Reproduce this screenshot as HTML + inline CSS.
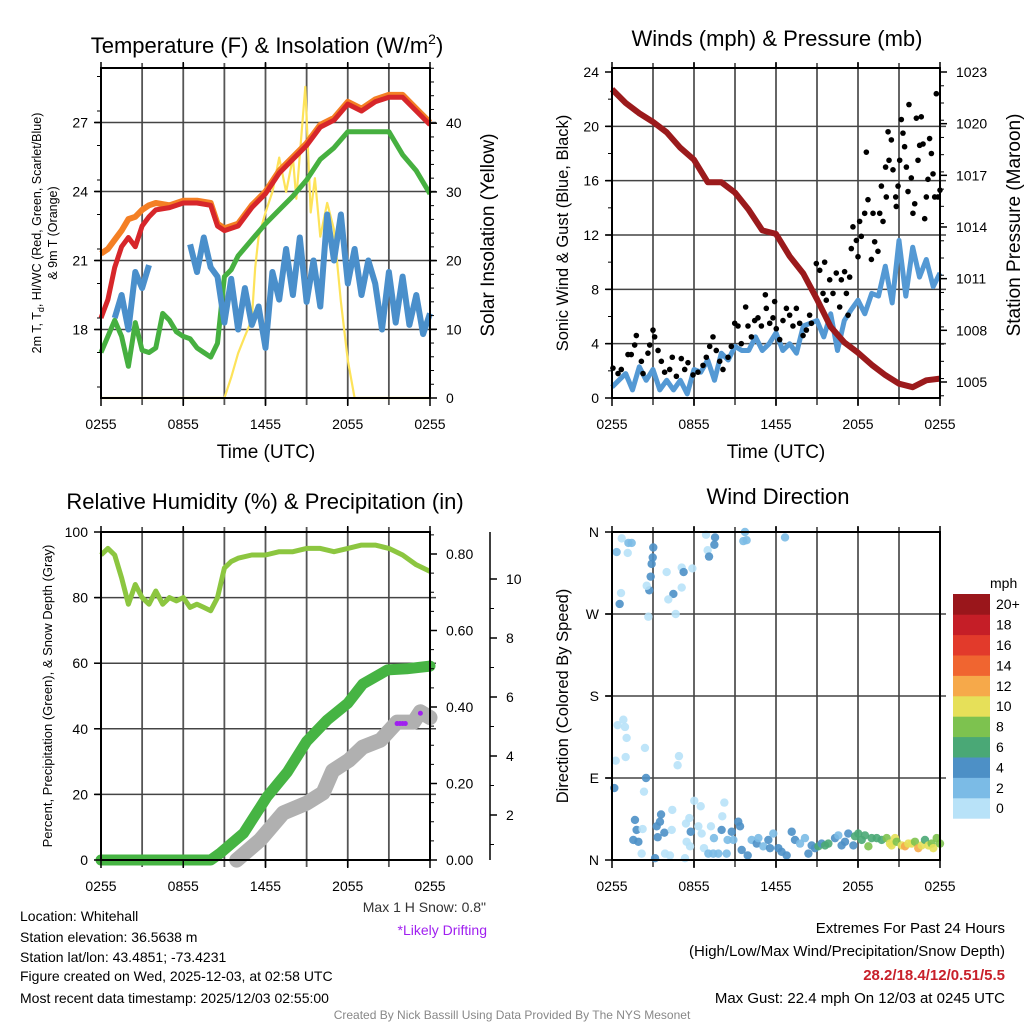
<!DOCTYPE html>
<html><head><meta charset="utf-8"><style>
html,body{margin:0;padding:0;background:#fff;}
svg{display:block;font-family:"Liberation Sans",Arial,sans-serif;}
</style></head><body>
<svg id="chart" width="1024" height="1024" viewBox="0 0 1024 1024" xmlns="http://www.w3.org/2000/svg">
<rect width="1024" height="1024" fill="#fff"/>
<g id="grid"></g>
<g id="marks"></g>
<g id="axes"></g>
<text x="267" y="53" font-size="22" text-anchor="middle">Temperature (F) &amp; Insolation (W/m<tspan font-size="14" dy="-9">2</tspan><tspan dy="9">)</tspan></text>
<text x="777" y="46" font-size="22" text-anchor="middle">Winds (mph) &amp; Pressure (mb)</text>
<text x="265" y="509" font-size="22" text-anchor="middle">Relative Humidity (%) &amp; Precipitation (in)</text>
<text x="778" y="504" font-size="22" text-anchor="middle">Wind Direction</text>
<text transform="translate(41,233) rotate(-90)" font-size="12.5" text-anchor="middle">2m T, T<tspan font-size="9" dy="3">d</tspan><tspan dy="-3">, HI/WC (Red, Green, Scarlet/Blue)</tspan></text>
<text transform="translate(57,233) rotate(-90)" font-size="12.5" text-anchor="middle">&amp; 9m T (Orange)</text>
<text transform="translate(494,235) rotate(-90)" font-size="19" text-anchor="middle">Solar Insolation (Yellow)</text>
<text transform="translate(568,233) rotate(-90)" font-size="16.5" text-anchor="middle">Sonic Wind &amp; Gust (Blue, Black)</text>
<text transform="translate(1020,225) rotate(-90)" font-size="19" text-anchor="middle">Station Pressure (Maroon)</text>
<text transform="translate(52,696) rotate(-90)" font-size="13" text-anchor="middle">Percent, Precipitation (Green), &amp; Snow Depth (Gray)</text>
<text transform="translate(568,696) rotate(-90)" font-size="16.5" text-anchor="middle">Direction (Colored By Speed)</text>
<text x="266" y="458" font-size="19" text-anchor="middle">Time (UTC)</text>
<text x="776" y="458" font-size="19" text-anchor="middle">Time (UTC)</text>
<text x="486" y="912" font-size="14" text-anchor="end" fill="#333">Max 1 H Snow: 0.8"</text>
<text x="487" y="935" font-size="14" text-anchor="end" fill="#a020f0">*Likely Drifting</text>
<g font-size="14" fill="#000">
<text x="20" y="921">Location: Whitehall</text>
<text x="20" y="942">Station elevation: 36.5638 m</text>
<text x="20" y="962">Station lat/lon: 43.4851; -73.4231</text>
<text x="20" y="981">Figure created on Wed, 2025-12-03, at 02:58 UTC</text>
<text x="20" y="1003">Most recent data timestamp: 2025/12/03 02:55:00</text>
</g>
<g font-size="15" text-anchor="end">
<text x="1005" y="933">Extremes For Past 24 Hours</text>
<text x="1005" y="956">(High/Low/Max Wind/Precipitation/Snow Depth)</text>
<text x="1005" y="980" font-weight="bold" fill="#c8202a">28.2/18.4/12/0.51/5.5</text>
<text x="1005" y="1003">Max Gust: 22.4 mph On 12/03 at 0245 UTC</text>
</g>
<text x="512" y="1019" font-size="12" text-anchor="middle" fill="#888">Created By Nick Bassill Using Data Provided By The NYS Mesonet</text>
<text x="990" y="588" font-size="14">mph</text>
</svg>
<script>
// ---------- DATA ----------
const xTickLabels = ["0255","0855","1455","2055","0255"];
const tempTicks = [18,21,24,27];
const insTicks = [0,10,20,30,40];
const windTicks = [0,4,8,12,16,20,24];
const presTicks = [1005,1008,1011,1014,1017,1020,1023];
const rhTicks = [0,20,40,60,80,100];
const prTicks = [0,0.2,0.4,0.6,0.8];
const prTickLabels = ["0.00","0.20","0.40","0.60","0.80"];
const snowTicks = [2,4,6,8,10];
const dirTicks = [0,90,180,270,360];
const dirTickLabels = ["N","E","S","W","N"];
const speedBins = ["0","2","4","6","8","10","12","14","16","18","20+"];
const speedColors = ["#b8e2f8","#7bbbe6","#4d90c6","#4aa876","#7dc24f","#e6e059","#f6a94a","#f06530","#e23a2b","#c51e27","#9a161b"];

const tempT = [0,0.5,1,1.5,2,2.5,3,3.5,4,5,6,7,8,8.5,9,10,11,12,13,14,15,16,17,18,19,20,21,22,23,24];
const redTemp = [18.5,19.3,20.7,21.6,22.0,21.6,22.5,22.9,23.2,23.3,23.5,23.5,23.4,22.5,22.3,22.5,23.3,23.9,24.8,25.4,26.0,26.8,27.1,27.8,27.5,27.9,28.1,28.1,27.5,26.9];
const orangeTemp = [21.3,21.5,21.9,22.3,22.8,22.9,23.2,23.4,23.5,23.4,23.6,23.6,23.5,22.6,22.4,22.6,23.4,24.0,24.9,25.5,26.1,26.9,27.2,27.9,27.6,28.0,28.2,28.2,27.6,27.0];
const greenT = [0,0.5,1,1.5,2,2.5,3,3.5,4,4.5,5,5.5,6,6.5,7,7.5,8,8.5,9,9.5,10,11,12,13,14,15,16,17,18,19,20,21,22,23,24];
const greenTemp = [17.0,17.7,18.4,17.7,16.4,18.3,17.1,17.0,17.2,18.7,18.4,17.9,17.7,17.6,17.2,17.0,16.8,17.4,20.3,20.6,21.2,21.9,22.6,23.2,23.8,24.5,25.4,25.9,26.6,26.6,26.6,26.6,25.6,24.9,23.9];
const windChill = [null,null,18.5,19.5,18.0,20.5,19.8,20.8,null,null,null,null,null,21.7,20.5,22.0,20.7,20.3,18.3,20.2,18.0,19.8,18.2,19.0,17.2,20.5,19.3,21.5,19.5,22.0,19.2,21.0,19.0,23.0,21.0,23.0,20.0,21.5,19.5,21.0,20.0,18.0,20.5,18.3,20.3,18.2,19.5,17.8,18.7];
const insT = [0,9,9.5,10,10.5,11,11.25,11.5,12,12.5,13,13.5,14,14.25,14.9,15.3,15.6,16,16.5,17,17.5,18,18.5,24];
const insolation = [0,0,3,6.5,9,11.4,19,23.5,27,30,35,30,35,29,45.3,27,32,23.5,28.4,24.5,14,5.5,0,0];

const sonicWind = [0.8,1.3,1.8,0.6,2.3,1.3,2.1,0.6,1.3,0.6,1.3,0.3,2.1,1.9,2.8,1.3,3.3,2.8,3.8,3.5,3.5,4.5,3.5,4.0,4.8,3.5,4.0,3.3,5.3,5.5,5.7,4.5,6.2,3.5,5.7,6.5,7.2,6.2,7.7,7.5,9.7,7.0,11.6,7.5,11.1,8.9,10.2,8.2,9.2];
const pressure = [1022.0,1021.2,1020.6,1020.1,1019.5,1018.6,1017.9,1016.6,1016.6,1016.0,1015.0,1013.8,1013.6,1012.3,1011.3,1009.8,1008.2,1007.3,1006.7,1006.0,1005.4,1004.9,1004.7,1005.1,1005.2];
const gustT = [0.07,0.44,0.68,1.17,1.41,1.66,1.78,2.15,2.27,2.63,2.76,3.0,3.12,3.37,3.61,3.85,4.22,4.41,4.71,5.07,5.32,5.56,5.93,6.29,6.66,6.9,7.15,7.39,7.63,7.88,8.12,8.49,8.73,8.98,9.22,9.46,9.78,9.95,10.2,10.44,10.68,10.93,11.22,11.29,11.54,11.78,11.9,12.02,12.27,12.51,12.76,13.0,13.24,13.49,13.73,13.98,14.22,14.46,14.59,14.95,15.2,15.44,15.56,15.68,15.93,16.17,16.41,16.66,16.78,17.02,17.15,17.39,17.27,17.51,17.63,17.88,18.0,18.12,18.24,18.49,18.61,18.73,18.98,19.1,19.22,19.46,19.59,19.71,19.83,20.02,20.07,20.2,20.27,20.44,20.56,20.76,20.8,20.93,21.05,21.17,21.29,21.41,21.54,21.66,21.73,21.9,22.02,22.15,22.27,22.39,22.51,22.63,22.76,22.88,23.0,23.12,23.24,23.37,23.49,23.61,23.73,23.85,24.0];
const gustV = [2.2,1.8,2.1,3.2,3.2,3.9,4.6,2.7,1.8,3.3,3.9,5.0,4.5,3.5,2.7,1.9,2.1,3.0,1.6,2.9,2.1,2.6,1.7,1.9,2.4,3.0,3.8,4.5,3.5,2.7,2.1,3.0,3.8,5.5,5.3,4.0,6.7,5.3,4.5,5.7,5.9,5.3,7.6,6.6,5.5,5.9,7.1,5.1,4.3,5.7,6.6,6.1,5.3,6.6,5.5,4.6,5.0,6.1,5.5,9.9,9.4,7.7,10.0,7.2,8.7,7.7,9.2,6.7,8.7,9.3,7.7,8.9,6.1,11.0,12.6,11.6,10.4,13.0,11.9,13.6,18.1,14.6,10.2,13.6,11.5,10.8,13.6,15.6,13.0,17.0,14.8,19.6,17.5,19.0,16.8,14.8,14.1,15.6,17.5,20.5,19.5,18.5,17.0,15.2,21.6,16.2,13.6,14.3,20.6,17.5,18.6,20.7,18.7,13.2,14.8,16.1,19.1,18.0,16.5,14.8,22.4,14.8,15.3];

const rhT = [0,0.5,1,1.5,2,2.5,3,3.5,4,4.5,5,5.5,6,6.5,7,7.5,8,8.5,9,9.5,10,11,12,13,14,15,16,17,18,19,20,21,22,23,24];
const rh = [93,95,93,86,78,84,80,78,82,78,80,79,80,77,78,77,76,80,89,91,92,93,93,94,94,95,95,94,95,96,96,95,93,90,88];
const precipT = [0,8,8.7,10.4,12.1,13.6,15,16.5,18,19.1,20.9,22.3,24];
const precip = [0,0,0.018,0.07,0.165,0.23,0.31,0.366,0.41,0.46,0.497,0.50,0.507];
const snowT = [9.9,11.6,13.3,15,16.2,16.9,18.1,19.1,20.4,21.6,22.8,23.3,24];
const snowDepth = [0.47,1.15,2.07,2.4,2.75,3.5,3.86,4.3,4.54,5.15,5.15,5.5,5.3];
const driftT = [21.6,21.8,22.0,22.2,23.3];
const driftV = [5.1,5.1,5.1,5.1,5.45];

const dirT = [0.71,1.2,1.44,0.34,1.15,3.02,2.98,2.9,2.83,2.73,2.54,0.66,0.56,2.66,4.0,5.1,5.24,5.88,5.1,4.49,4.12,4.66,6.88,7.54,7.49,7.0,7.1,9.73,9.61,9.85,12.66,
0.83,0.41,0.95,1.07,2.41,1.0,0.27,4.9,4.8,2.49,0.17,2.34,
1.68,1.8,1.56,1.93,2.24,2.17,3.15,3.59,3.51,3.27,3.34,3.83,4.37,4.41,5.41,5.66,6.02,6.49,5.46,5.71,5.76,6.32,6.56,5.34,3.88,4.24,6.73,7.05,7.41,7.24,7.78,7.46,8.02,8.07,8.22,8.39,8.46,8.76,8.88,9.24,9.37,9.49,9.93,10.22,10.59,10.71,11.07,11.44,11.56,11.8,12.17,12.41,12.78,13.15,13.39,13.76,14.12,14.37,14.61,14.85,15.1,15.34,15.59,15.83,16.32,16.56,16.8,17.05,17.29,17.66,17.78,18.02,18.27,18.51,18.76,19.0,19.37,19.73,20.1,20.34,20.46,20.71,20.83,21.2,21.44,21.68,21.93,22.17,22.41,22.66,22.9,23.15,23.39,23.51,23.76,24.0];
const dirV = [353,348,348,338,337,343,332,325,311,296,301,293,281,267,316,321,316,320,299,292,286,270,357,354,346,340,333,360,350,351,354,
154,148,146,134,123,113,109,114,104,90,79,75,
44,33,22,20,34,7,2,50,42,37,25,30,33,55,40,46,65,59,20,15,31,37,29,2,7,5,13,7,7,37,7,24,33,48,63,7,22,31,22,42,37,11,5,22,18,24,15,22,13,29,13,9,5,31,22,18,24,7,16,13,15,18,16,18,24,27,16,20,29,16,26,29,22,27,15,24,24,22,24,18,16,24,20,16,15,18,18,20,13,16,22,16,18,13,24,18];
const dirSpeed = [1,3,3,3,1,5,5,5,5,5,1,1,5,1,1,1,5,1,1,5,1,1,1,5,5,1,5,3,3,3,3,
1,1,1,1,1,1,1,1,1,5,5,1,
5,5,5,5,1,1,5,5,5,5,5,5,1,1,1,1,1,1,1,1,5,1,1,1,1,1,1,3,3,1,3,3,5,1,1,3,3,5,3,5,5,5,5,3,5,3,3,5,5,3,5,5,5,5,5,3,3,5,5,5,7,5,7,7,5,3,5,5,5,5,7,7,7,7,9,7,7,7,9,11,11,11,9,11,13,11,11,9,13,11,7,11,9,11,9,9];

// ---------- RENDER ----------
const NS = "http://www.w3.org/2000/svg";
const G = document.getElementById('grid'), M = document.getElementById('marks'), A = document.getElementById('axes');
function mk(parent, tag, attrs, name, text){
  const el = document.createElementNS(NS, tag);
  for (const k in attrs) el.setAttribute(k, attrs[k]);
  
  
  if (text !== undefined) el.textContent = text;
  parent.appendChild(el);
  return el;
}
function linFn(d0,d1,r0,r1){ return v => r0 + (v-d0)*(r1-r0)/(d1-d0); }
function pathFrom(ts, vs, xf, yf){
  let d = "", pen = false;
  for (let i=0;i<vs.length;i++){
    if (vs[i]===null){ pen=false; continue; }
    d += (pen?"L":"M") + xf(ts[i]).toFixed(1) + "," + yf(vs[i]).toFixed(1);
    pen = true;
  }
  return d;
}
const hourly = []; for (let i=0;i<=24;i++) hourly.push(i);
const halfHourly = []; for (let i=0;i<=48;i++) halfHourly.push(i/2);

function panel(id, x0, x1, y0, y1, hGrid){
  const xs = linFn(0,24,x0,x1);
  for (let h=3; h<24; h+=3) mk(G,'line',{x1:xs(h),x2:xs(h),y1:y0-5,y2:y1+7,stroke:'#555','stroke-width':1.8},id+'-vgrid');
  hGrid.forEach(y=>mk(G,'line',{x1:x0-6,x2:x1+6,y1:y,y2:y,stroke:'#444','stroke-width':1.5},id+'-hgrid'));
  mk(A,'rect',{x:x0,y:y0,width:x1-x0,height:y1-y0,fill:'none',stroke:'#000','stroke-width':2},id+'-frame');
  [0,6,12,18,24].forEach((h,i)=>{
    mk(A,'line',{x1:xs(h),x2:xs(h),y1:y1,y2:y1+8,stroke:'#000','stroke-width':1.5},id+'-x-tick');
    mk(A,'line',{x1:xs(h),x2:xs(h),y1:y0-6,y2:y0,stroke:'#000','stroke-width':1.5},id+'-x-tick-top');
    mk(A,'text',{x:xs(h),y:y1+31,'font-size':14,'text-anchor':'middle'},id+'-x-tick-label',xTickLabels[i]);
  });
  return xs;
}
function yTicks(id, vals, labels, yf, x, side, fs, minorStep, lo, hi){
  const dir = side==='left'?-1:1;
  vals.forEach((v,i)=>{
    mk(A,'line',{x1:x,x2:x+dir*7,y1:yf(v),y2:yf(v),stroke:'#000','stroke-width':1.5},id+'-tick');
    mk(A,'text',{x:x+dir*(side==='left'?13:16),y:yf(v)+5,'font-size':fs,'text-anchor':side==='left'?'end':'start'},id+'-tick-label',labels[i]);
  });
  if (minorStep) for (let v=lo; v<=hi+1e-9; v+=minorStep){
    mk(A,'line',{x1:x,x2:x+dir*4,y1:yf(v),y2:yf(v),stroke:'#000','stroke-width':1},id+'-minor-tick');
  }
}

// Panel 1
const yT = linFn(27,18,122.5,329.5), yI = linFn(0,40,398,123.2);
const xs1 = panel('temp',101,430,68,398,tempTicks.map(yT));
yTicks('temp-y',tempTicks,tempTicks.map(String),yT,101,'left',14,1.5,15.5,29);
yTicks('insolation-y',insTicks,insTicks.map(String),yI,430,'right',14,2,0,48);
mk(M,'path',{d:pathFrom(insT,insolation,xs1,yI),fill:'none',stroke:'#fde35a','stroke-width':2.2,'stroke-linejoin':'round'},'insolation-line');
mk(M,'path',{d:pathFrom(greenT,greenTemp,xs1,yT),fill:'none',stroke:'#46b040','stroke-width':5,'stroke-linejoin':'round'},'dewpoint-line');
mk(M,'path',{d:pathFrom(halfHourly,windChill,xs1,yT),fill:'none',stroke:'#4a8fcb','stroke-width':6,'stroke-linejoin':'round'},'wind-chill-line');
mk(M,'path',{d:pathFrom(tempT,orangeTemp,xs1,yT),fill:'none',stroke:'#f47f24','stroke-width':6,'stroke-linejoin':'round'},'temp-9m-line');
mk(M,'path',{d:pathFrom(tempT,redTemp,xs1,yT),fill:'none',stroke:'#d7262a','stroke-width':5,'stroke-linejoin':'round'},'temp-2m-line');

// Panel 2
const yW = linFn(0,24,398,72), yP = linFn(1005,1023,382,72);
const xs2 = panel('wind',612,940,68,398,[4,8,12,16,20].map(yW));
yTicks('wind-y',windTicks,windTicks.map(String),yW,612,'left',14,2,0,24);
yTicks('pressure-y',presTicks,presTicks.map(String),yP,940,'right',14,1,1004.2,1023);
mk(M,'path',{d:pathFrom(halfHourly,sonicWind,xs2,yW),fill:'none',stroke:'#5499d4','stroke-width':5,'stroke-linejoin':'round'},'sonic-wind-line');
mk(M,'path',{d:pathFrom(hourly,pressure,xs2,yP),fill:'none',stroke:'#9b1a1c','stroke-width':6,'stroke-linejoin':'round'},'pressure-line');
gustT.forEach((t,i)=>mk(M,'circle',{cx:xs2(t),cy:yW(gustV[i]),r:2.8,fill:'#000'},'gust-point'));

// Panel 3
const yRH = linFn(0,100,860,532), yPr = linFn(0,0.8,860,554), ySn = linFn(0,10,874,579);
const xs3 = panel('humidity',101,430,532,860,[20,40,60,80].map(yRH));
yTicks('rh-y',rhTicks,rhTicks.map(String),yRH,101,'left',14,null);
yTicks('precip-y',prTicks,prTickLabels,yPr,430,'right',14,0.05,0,0.85);
mk(A,'line',{x1:490,x2:490,y1:532,y2:860,stroke:'#000','stroke-width':1.5},'snow-axis-line');
yTicks('snow-y',snowTicks,snowTicks.map(String),ySn,490,'right',14,1,1,10.5);
mk(M,'path',{d:pathFrom(snowT,snowDepth,xs3,ySn),fill:'none',stroke:'#b0b0b0','stroke-width':15,'stroke-linejoin':'round','stroke-linecap':'round'},'snow-depth-line');
mk(M,'path',{d:pathFrom(precipT,precip,xs3,yPr),fill:'none',stroke:'#46b443','stroke-width':11,'stroke-linejoin':'round','stroke-linecap':'round'},'precip-line');
mk(M,'path',{d:pathFrom(rhT,rh,xs3,yRH),fill:'none',stroke:'#8cc640','stroke-width':5,'stroke-linejoin':'round'},'rh-line');
driftT.forEach((t,i)=>mk(M,'circle',{cx:xs3(t),cy:ySn(driftV[i]),r:2.5,fill:'#a020f0'},'drift-point'));

// Panel 4
const yD = linFn(0,360,860,532);
const xs4 = panel('direction',612,940,532,860,[90,180,270].map(yD));
yTicks('dir-y',dirTicks,dirTickLabels,yD,612,'left',14,null);
dirT.forEach((t,i)=>{
  const bin = Math.min(10,Math.floor(dirSpeed[i]/2));
  mk(M,'circle',{cx:xs4(t),cy:yD(dirV[i]),r:4.2,fill:speedColors[bin],'fill-opacity':0.9},'direction-point');
});
const cbTop = 594, cbH = 20.4;
speedBins.forEach((lab,i)=>{
  const y = cbTop + (speedBins.length-1-i)*cbH;
  mk(A,'rect',{x:953,y:y,width:37,height:cbH+0.3,fill:speedColors[i]},'colorbar-swatch');
  mk(A,'text',{x:996,y:y+cbH/2+5,'font-size':14},'colorbar-label',lab);
});
</script>
</body></html>
